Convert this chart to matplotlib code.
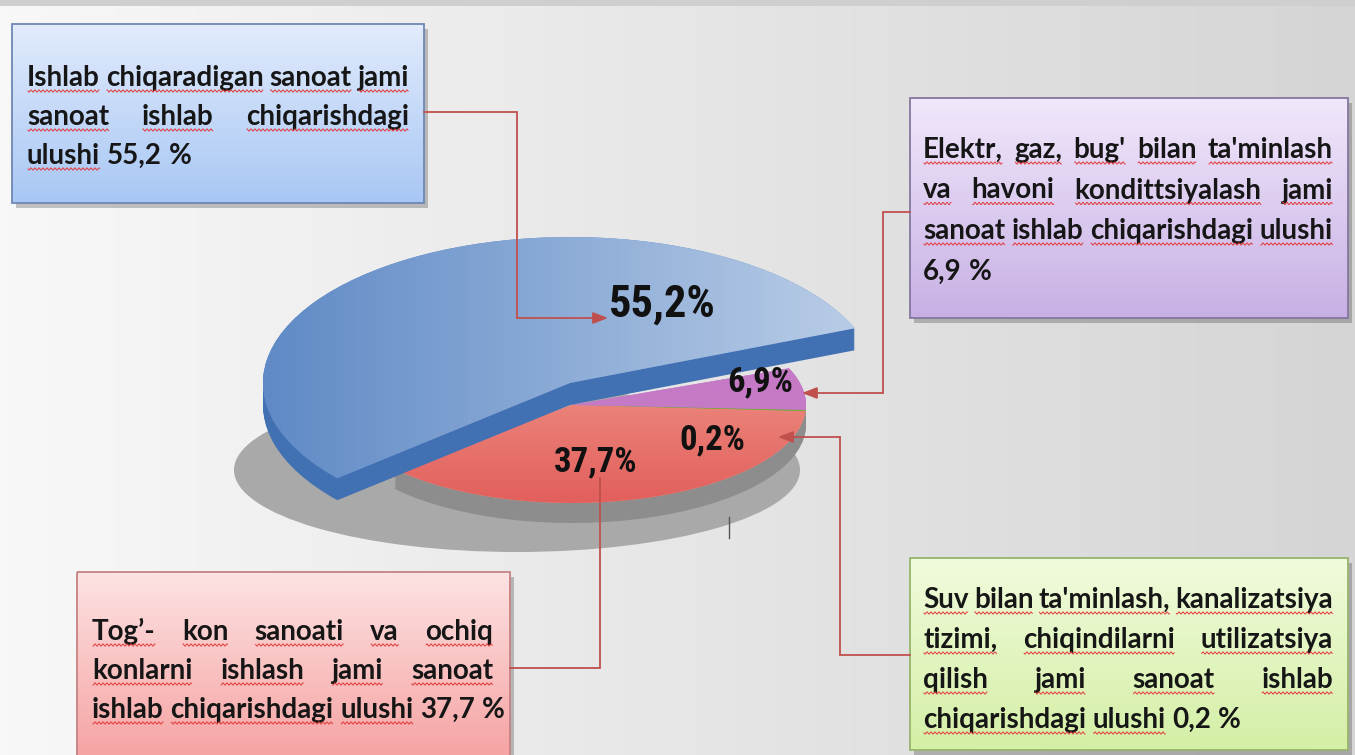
import numpy as np
import matplotlib
matplotlib.use("Agg")
import matplotlib.pyplot as plt
import matplotlib.colors as mcolors
from matplotlib.patches import Wedge, Ellipse, Rectangle
from matplotlib.transforms import Affine2D

W, H = 1355, 755

# pie data (counter-clockwise order)
sectors = ["Ishlab chiqaradigan sanoat", "Tog'-kon sanoati",
           "Suv, kanalizatsiya, chiqindilar", "Elektr, gaz, bug'"]
shares = [55.2, 37.7, 0.2, 6.9]
top_colors = [("#5f8ac6", "#bccfe8"), ("#f3a596", "#e25f5c"),
              ("#7aa83a", "#7aa83a"), ("#c57ac6", "#c57ac6")]
label_pos = [(662, 305), (596, 462), (712, 440), (760, 382)]

# callout texts
blue_lines = ["Ishlab chiqaradigan sanoat jami",
              "sanoat ishlab chiqarishdagi",
              "ulushi 55,2 %"]
purple_lines = ["Elektr, gaz, bug'  bilan ta'minlash",
                "va havoni kondittsiyalash jami",
                "sanoat ishlab chiqarishdagi ulushi",
                "6,9 %"]
red_lines = ["Tog’- kon sanoati va ochiq",
             "konlarni ishlash jami sanoat",
             "ishlab chiqarishdagi ulushi  37,7 %"]
green_lines = ["Suv bilan ta'minlash, kanalizatsiya",
               "tizimi, chiqindilarni utilizatsiya",
               "qilish jami sanoat ishlab",
               "chiqarishdagi ulushi  0,2 %"]

fig = plt.figure(figsize=(W / 100, H / 100), dpi=100)
ax = fig.add_axes([0, 0, 1, 1])
ax.set_xlim(0, W)
ax.set_ylim(H, 0)
ax.axis("off")
ax.set_autoscale_on(False)


def gradient(c1, c2, horizontal=False, n=256):
    t = np.linspace(0, 1, n)[:, None]
    a = np.array(mcolors.to_rgb(c1)) * (1 - t) + np.array(mcolors.to_rgb(c2)) * t
    return a[None, :, :] if horizontal else a[:, None, :]


# background
ax.imshow(gradient("#f8f8f8", "#d5d5d5", horizontal=True),
          extent=(0, W, H, 0), aspect="auto", zorder=0)
ax.add_patch(Rectangle((0, 0), W, 6, color="#cfcfcf", zorder=0.5, lw=0))

# shadow under the pie
ax.add_patch(Ellipse((517, 470), 566, 164, color="#a9a9a9", zorder=1, lw=0))


def unit_tf(cx, cy, rx, ry):
    return Affine2D().scale(rx, -ry).translate(cx, cy) + ax.transData


small = dict(cx=572, cy=405, rx=234, ry=98, depth=20, wall="#8d8d8d")
big = dict(cx=570, cy=383, rx=307, ry=146, depth=22, wall="#4271b3")

start = 22.0
edges = start + np.concatenate([[0], np.cumsum(shares)]) / 100 * 360


def draw_slice(i, g, z):
    t1, t2 = edges[i], edges[i + 1]
    for d in range(g["depth"], 0, -1):
        ax.add_patch(Wedge((0, 0), 1, t1, t2, color=g["wall"], lw=0, zorder=z,
                           transform=unit_tf(g["cx"], g["cy"] + d, g["rx"], g["ry"])))


def draw_top(i, g, z, horizontal):
    t1, t2 = edges[i], edges[i + 1]
    w = Wedge((0, 0), 1, t1, t2, color=top_colors[i][0], lw=0, zorder=z,
              transform=unit_tf(g["cx"], g["cy"], g["rx"], g["ry"]))
    ax.add_patch(w)
    ext = (g["cx"] - g["rx"], g["cx"] + g["rx"], g["cy"] + g["ry"], g["cy"] - g["ry"])
    im = ax.imshow(gradient(*top_colors[i], horizontal=horizontal), extent=ext,
                   aspect="auto", zorder=z + 0.1)
    im.set_clip_path(w)


for i in range(1, len(shares)):
    draw_slice(i, small, 2)
for i in range(1, len(shares)):
    draw_top(i, small, 3, horizontal=False)
draw_slice(0, big, 4)
draw_top(0, big, 5, horizontal=True)

# stray tick under pie
ax.plot([729, 729], [517, 538], color="#555555", lw=1, zorder=2)

# slice labels
pie_font = ["Liberation Sans Narrow", "Roboto Condensed", "DejaVu Sans"]
for i, (x, y) in enumerate(label_pos):
    txt = f"{shares[i]:.1f}%".replace(".", ",")
    ax.text(x, y, txt, ha="center", va="center", fontsize=32 if i == 0 else 25,
            fontweight="bold", fontstretch="condensed", family=pie_font,
            color="#111111", zorder=8)

# callout boxes
box_font = ["Lato", "DejaVu Sans"]
FS = 20
renderer = fig.canvas.get_renderer()


def text_w(s):
    t = ax.text(0, 0, s, fontsize=FS, fontweight="bold", family=box_font)
    w = t.get_window_extent(renderer).width
    t.remove()
    return w


SPACE = text_w("a a") - text_w("aa")


def wavy(x0, x1, y):
    xs = np.arange(x0, x1 + 0.5, 0.5)
    ax.plot(xs, y + 1.1 * np.sin(xs * 2 * np.pi / 4.0), color="#e03a3a",
            lw=0.7, zorder=9)


def paragraph(lines, x0, x1, y0, dy):
    for k, line in enumerate(lines):
        y = y0 + k * dy
        words = line.split()
        widths = [text_w(w) for w in words]
        last = k == len(lines) - 1
        if last or len(words) == 1:
            gaps = [SPACE] * len(words)
        else:
            g = (x1 - x0 - sum(widths)) / (len(words) - 1)
            gaps = [g] * len(words)
        x = x0
        for w, wd, g in zip(words, widths, gaps):
            ax.text(x, y, w, fontsize=FS, fontweight="bold", family=box_font,
                    color="#161616", ha="left", va="baseline", zorder=9)
            if any(c.isalpha() for c in w):
                wavy(x + 1, x + wd - 1, y + 5)
            x += wd + g


def box(x0, y0, x1, y1, c_top, c_bot, edge):
    ax.add_patch(Rectangle((x0 + 4, y0 + 5), x1 - x0, y1 - y0, color="#000000",
                           alpha=0.22, lw=0, zorder=6))
    ax.imshow(gradient(c_top, c_bot), extent=(x0, x1, y1, y0), aspect="auto",
              zorder=6.5)
    ax.add_patch(Rectangle((x0, y0), x1 - x0, y1 - y0, fill=False, ec=edge,
                           lw=1.3, zorder=7))


box(12, 24, 424, 203, "#e1ebfc", "#a8c7f4", "#6f87b2")
paragraph(blue_lines, 27, 409, 86, 39)

box(910, 98, 1348, 318, "#f1e8fb", "#c7b0e4", "#85779f")
paragraph(purple_lines, 923, 1333, 158, 40.5)

box(77, 572, 510, 760, "#fde3e3", "#f6a2a2", "#c58282")
paragraph(red_lines, 92, 493, 640, 39)

box(910, 558, 1348, 750, "#f1fbdc", "#d4efa6", "#97b46c")
paragraph(green_lines, 923, 1333, 608, 40)

# connectors
LC = "#c0504d"


def connector(pts, arrow=True):
    xs, ys = zip(*pts[:-1]) if arrow else zip(*pts)
    ax.plot(xs, ys, color=LC, lw=1.3, zorder=7.5, solid_joinstyle="miter")
    if arrow:
        ax.annotate("", xy=pts[-1], xytext=pts[-2],
                    arrowprops=dict(arrowstyle="-|>,head_length=0.9,head_width=0.35",
                                    color=LC, lw=1.3, shrinkA=0, shrinkB=0),
                    zorder=7.5)


connector([(424, 112), (517, 112), (517, 318), (608, 318)])
connector([(910, 212), (883, 212), (883, 393), (802, 393)])
connector([(510, 668), (600, 668), (600, 478)], arrow=False)
connector([(910, 655), (840, 655), (840, 437), (778, 437)])

ax.set_xlim(0, W)
ax.set_ylim(H, 0)
fig.savefig("out.png", dpi=100)
